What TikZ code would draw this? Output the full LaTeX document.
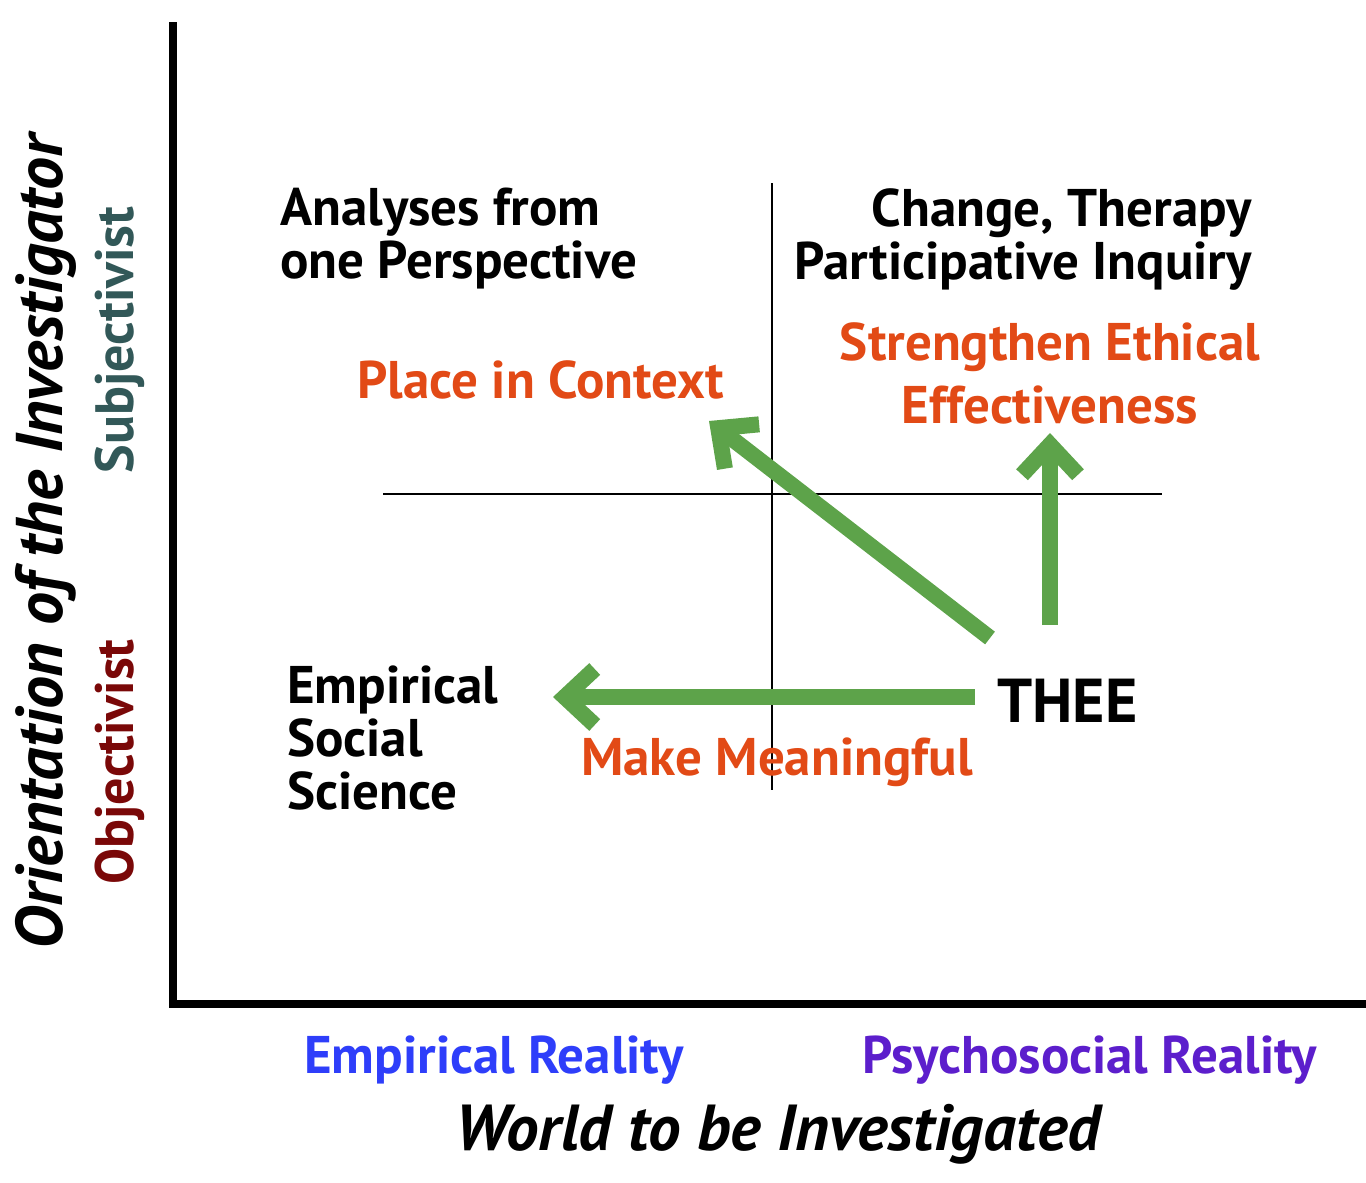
\documentclass[tikz,border=0pt]{standalone}
\usepackage{fontspec}
\setmainfont{PT Sans}
\usetikzlibrary{arrows.meta,positioning}
\definecolor{ctxorange}{RGB}{226,74,22}
\definecolor{empblue}{RGB}{46,62,250}
\definecolor{psypurple}{RGB}{92,30,204}
\definecolor{subjteal}{RGB}{50,88,88}
\definecolor{objred}{RGB}{122,8,8}
\definecolor{arrowgreen}{RGB}{93,163,74}
\tikzset{
  blacklbl/.style={font=\bfseries\fontsize{53}{53}\selectfont, inner sep=0pt, align=left},
  orangelbl/.style={blacklbl, text=ctxorange},
  reallbl/.style={font=\bfseries\fontsize{53}{53}\selectfont, inner sep=0pt},
  axislbl/.style={font=\bfseries\itshape\fontsize{65}{66}\selectfont, inner sep=0pt},
  sidelbl/.style={font=\bfseries\fontsize{54}{54}\selectfont, inner sep=0pt, rotate=90},
  axisline/.style={line width=8pt, line join=miter},
  crossline/.style={line width=2.5pt},
  greenarrow/.style={arrowgreen, line width=16pt,
    -{Straight Barb[length=30pt,width=56pt,line width=16pt]}}
}

\begin{document}
\begin{tikzpicture}[x=1pt,y=-1pt]
	\useasboundingbox (0,0) rectangle (1366,1183);
	% axes
	\draw [axisline] (173,22) -- (173,1004) -- (1366,1004);
	\draw [crossline] (772,183) -- (772,790);
	\draw [crossline] (383,494) -- (1162,494);
	
	% quadrant texts
	\node [blacklbl, anchor=north west] (analyses) at (280,188) {Analyses from\\one Perspective};
	\node [blacklbl, anchor=north east, align=right] (change) at (1252,188) {Change, Therapy\hspace{6pt}\\Participative Inquiry};
	\node [orangelbl, anchor=north, align=center, font=\bfseries\fontsize{53}{63}\selectfont] (strengthen) at (1050,322) {Strengthen Ethical\\Effectiveness};
	\node [orangelbl, anchor=base west] (place) at (357,398) {Place in Context};
	\node [blacklbl, anchor=north west] (empirical) at (287,666) {Empirical\\Social\\Science};
	\node [blacklbl, font=\bfseries\fontsize{62}{66}\selectfont, anchor=base west] (thee) at (997,722) {THEE};
	\node [orangelbl, anchor=base east] (meaningful) at (973,775) {Make Meaningful};
	
	% arrows out of THEE
	\coordinate (meaning start) at (975,697);
	\coordinate (meaning tip) at (553,697);
	\coordinate (context start) at (990,638);
	\coordinate (context tip) at (709,421);
	\coordinate (ethic start) at (1050,625);
	\coordinate (ethic tip) at (1050,433);
	\draw [greenarrow] (meaning start) -- (meaning tip);
	\draw [greenarrow] (context start) -- (context tip);
	\draw [greenarrow] (ethic start) -- (ethic tip);
	
	% axis labels
	\node [reallbl, text=empblue, anchor=base west] (empreal) at (304,1073) {Empirical Reality};
	\node [reallbl, text=psypurple, anchor=base west] (psyreal) at (862,1073) {Psychosocial Reality};
	\node [axislbl, anchor=base] (world) at (778,1150) {World to be Investigated};
	\node [axislbl, font=\bfseries\itshape\fontsize{66}{66}\selectfont, rotate=90, anchor=base] (orient) at (62,542) {Orientation of the Investigator};
	\node [sidelbl, text=subjteal, anchor=base] (subj) at (133,340) {Subjectivist};
	\node [sidelbl, text=objred, anchor=base] (obj) at (133,762) {Objectivist};
	
\end{tikzpicture}
\end{document}
